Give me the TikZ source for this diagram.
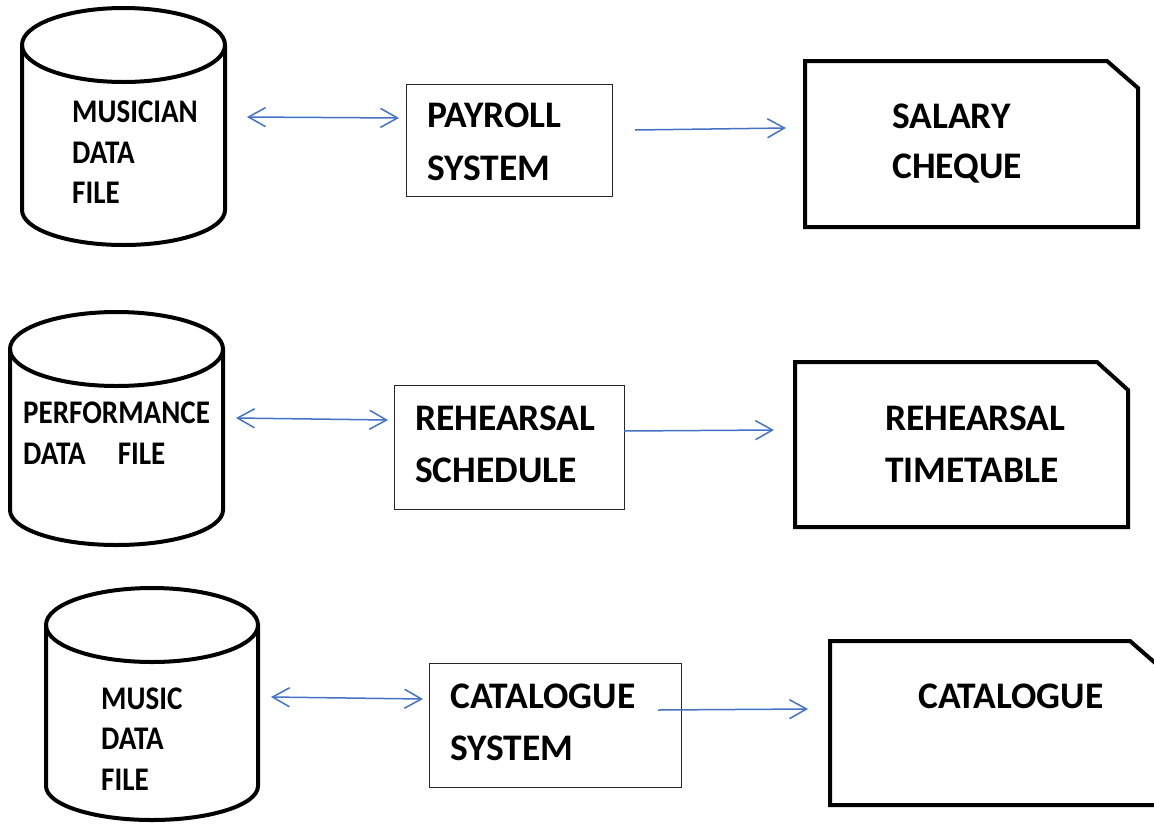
\documentclass[tikz,border=0pt]{standalone}
\usepackage{fontspec}
\setmainfont{Carlito}
\newfontfamily\narrowcarlito{Carlito}[FakeStretch=0.88]
\usetikzlibrary{arrows.meta}
\definecolor{flowblue}{RGB}{68,114,196}
\begin{document}
\begin{tikzpicture}[x=1pt,y=-1pt,
  lbl/.style={font=\fontsize{37.5}{37.5}\selectfont\bfseries, inner sep=0pt, anchor=base west},
  cyl/.style={font=\narrowcarlito\fontsize{33}{33}\selectfont\bfseries, inner sep=0pt, anchor=base west},
  procbox/.style={draw=black!85, line width=1.3pt, inner sep=0pt, anchor=north west},
  heavy/.style={draw=black, line width=4pt},
  barb/.tip={Straight Barb[length=17pt,width=19pt]},
  link/.style={draw=flowblue, line width=1.5pt, -barb},
  twoway/.style={draw=flowblue, line width=1.5pt, barb-barb}]
\useasboundingbox (0,0) rectangle (1154,823);
\clip (0,0) rectangle (1154,823);

% ---------- data stores (cylinders) ----------
\draw[heavy] (22,45) -- (22,210) arc[start angle=180,end angle=0,x radius=101.5,y radius=35] -- (225,45);
\draw[heavy] (123.5,45) ellipse [x radius=101.5, y radius=37];

\draw[heavy] (10,349) -- (10,510) arc[start angle=180,end angle=0,x radius=106.5,y radius=35] -- (223,349);
\draw[heavy] (116.5,349) ellipse [x radius=106.5, y radius=37];

\draw[heavy] (46,625) -- (46,786) arc[start angle=180,end angle=0,x radius=106,y radius=34] -- (258,625);
\draw[heavy] (152,625) ellipse [x radius=106, y radius=37];

\node[cyl] (s1a) at (72,122) {MUSICIAN};
\node[cyl] (s1b) at (72,163) {DATA};
\node[cyl] (s1c) at (72,203) {FILE};

\node[cyl] (s2a) at (23,423) {PERFORMANCE};
\node[cyl] (s2b) at (23,464) {DATA\hspace{32pt}FILE};

\node[cyl] (s3a) at (101,709) {MUSIC};
\node[cyl] (s3b) at (101,749) {DATA};
\node[cyl] (s3c) at (101,790) {FILE};

% ---------- processes ----------
\node[procbox, minimum width=206pt, minimum height=112pt] (pay) at (406,84) {};
\node[lbl] (pay1) at (427,127) {PAYROLL};
\node[lbl] (pay2) at (427,180) {SYSTEM};

\node[procbox, minimum width=230pt, minimum height=124pt] (reh) at (394,385) {};
\node[lbl] (reh1) at (415,430) {REHEARSAL};
\node[lbl] (reh2) at (415,482) {SCHEDULE};

\node[procbox, minimum width=252pt, minimum height=124pt] (cat) at (429,663) {};
\node[lbl] (cat1) at (450,708) {CATALOGUE};
\node[lbl] (cat2) at (450,760) {SYSTEM};

% ---------- output documents ----------
\draw[heavy] (805,61) -- (1107,61) -- (1138,88) -- (1138,227) -- (805,227) -- cycle;
\node[lbl] (out1a) at (892,128) {SALARY};
\node[lbl] (out1b) at (892,178) {CHEQUE};

\draw[heavy] (795,362) -- (1097,362) -- (1128,390) -- (1128,527) -- (795,527) -- cycle;
\node[lbl] (out2a) at (885,430) {REHEARSAL};
\node[lbl] (out2b) at (885,482) {TIMETABLE};

\draw[heavy] (830,641) -- (1130,641) -- (1161,668) -- (1161,805) -- (830,805) -- cycle;
\node[lbl] (out3a) at (918,708) {CATALOGUE};

% ---------- flows ----------
\coordinate (f1a) at (247,117);
\coordinate (f1b) at (399,118);
\coordinate (g1a) at (635,130);
\coordinate (g1b) at (786,128);
\coordinate (f2a) at (236,418);
\coordinate (f2b) at (388,420);
\coordinate (g2a) at (624,431);
\coordinate (g2b) at (774,430);
\coordinate (f3a) at (271,697);
\coordinate (f3b) at (423,699);
\coordinate (g3a) at (658,710);
\coordinate (g3b) at (808,709);

\draw[twoway] (f1a) -- (f1b);
\draw[link] (g1a) -- (g1b);
\draw[twoway] (f2a) -- (f2b);
\draw[link] (g2a) -- (g2b);
\draw[twoway] (f3a) -- (f3b);
\draw[link] (g3a) -- (g3b);
\end{tikzpicture}
\end{document}
